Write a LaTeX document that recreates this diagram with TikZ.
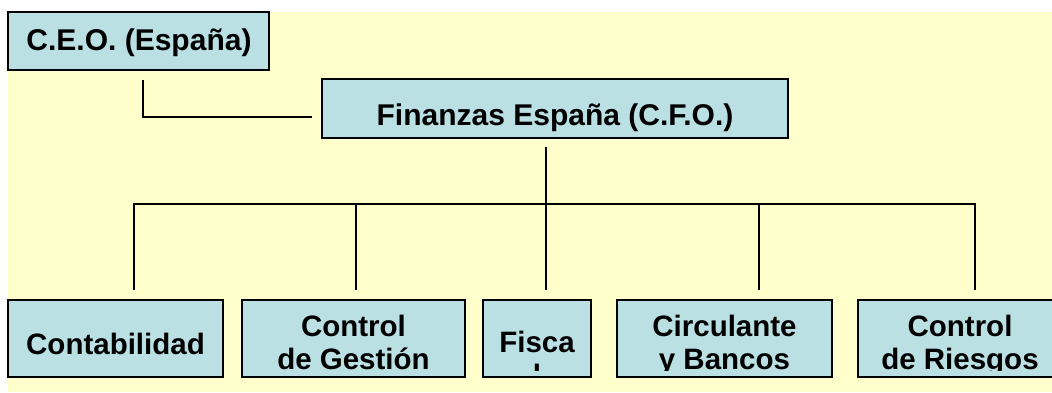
\documentclass[tikz,border=0pt]{standalone}
\usepackage{fontspec}
\setmainfont{Liberation Sans}
\definecolor{bgyellow}{RGB}{255,255,204}
\definecolor{boxblue}{RGB}{186,224,227}
\begin{document}
\begin{tikzpicture}[x=1pt,y=-1pt,
  box/.style={draw=black, line width=1.5pt, fill=boxblue, inner sep=0pt},
  conn/.style={draw=black, line width=2pt},
  toptxt/.style={font=\fontsize{30}{33}\selectfont\bfseries, anchor=base, inner sep=0pt},
  bottxt/.style={font=\fontsize{29.5}{33}\selectfont\bfseries, anchor=base, inner sep=0pt}]
\useasboundingbox (0,0) rectangle (1052,392);
\clip (0,0) rectangle (1052,392);
\fill[bgyellow] (8,12) rectangle (1052,392);
% boxes
\node[box, minimum width=261pt, minimum height=58pt] (ceo) at (138.5,41) {};
\node[box, minimum width=466pt, minimum height=59pt] (cfo) at (555,108.5) {};
\node[box, minimum width=215pt, minimum height=77pt] (contab) at (115.5,338.5) {};
\node[box, minimum width=223pt, minimum height=77pt] (gest) at (353.5,338.5) {};
\node[box, minimum width=108pt, minimum height=77pt] (fisca) at (537,338.5) {};
\node[box, minimum width=215pt, minimum height=77pt] (circ) at (724.5,338.5) {};
\node[box, minimum width=210pt, minimum height=77pt] (ries) at (963,338.5) {};
% texts
\node[toptxt] (ceot) at (139,50) {C.E.O. (España)};
\node[toptxt] (cfot) at (555,125) {Finanzas España (C.F.O.)};
\begin{scope}
\clip (0,0) rectangle (1052,370);
\node[bottxt] (contabt) at (115.5,354) {Contabilidad};
\node[bottxt] (gestt1) at (353.5,336) {Control};
\node[bottxt] (gestt2) at (353.5,369) {de Gestión};
\node[bottxt] (fiscat1) at (537,352) {Fisca};
\node[bottxt] (fiscat2) at (537,385) {l};
\node[bottxt] (circt1) at (724.5,336) {Circulante};
\node[bottxt] (circt2) at (724.5,369) {y Bancos};
\node[bottxt] (riest1) at (960,336) {Control};
\node[bottxt] (riest2) at (960,369) {de Riesgos};
\end{scope}
% connectors
\coordinate (busL) at (134,204);
\coordinate (busR) at (975,204);
\draw[conn] ([xshift=4.5pt,yshift=-9pt]ceo.south) |- ([xshift=-9pt,yshift=-8.5pt]cfo.west);
\draw[conn] ([xshift=-9pt,yshift=-8pt]cfo.south) -- ([xshift=-9pt]cfo.south |- busL);
\draw[conn] ([yshift=9pt]contab.north -| busL) -- (busL) -- (busR) -- ([yshift=9pt]ries.north -| busR);
\draw[conn] ([xshift=2.5pt]gest.north |- busL) -- ([xshift=2.5pt,yshift=9pt]gest.north);
\draw[conn] ([xshift=9pt]fisca.north |- busL) -- ([xshift=9pt,yshift=9pt]fisca.north);
\draw[conn] ([xshift=34.5pt]circ.north |- busL) -- ([xshift=34.5pt,yshift=9pt]circ.north);
\end{tikzpicture}
\end{document}
